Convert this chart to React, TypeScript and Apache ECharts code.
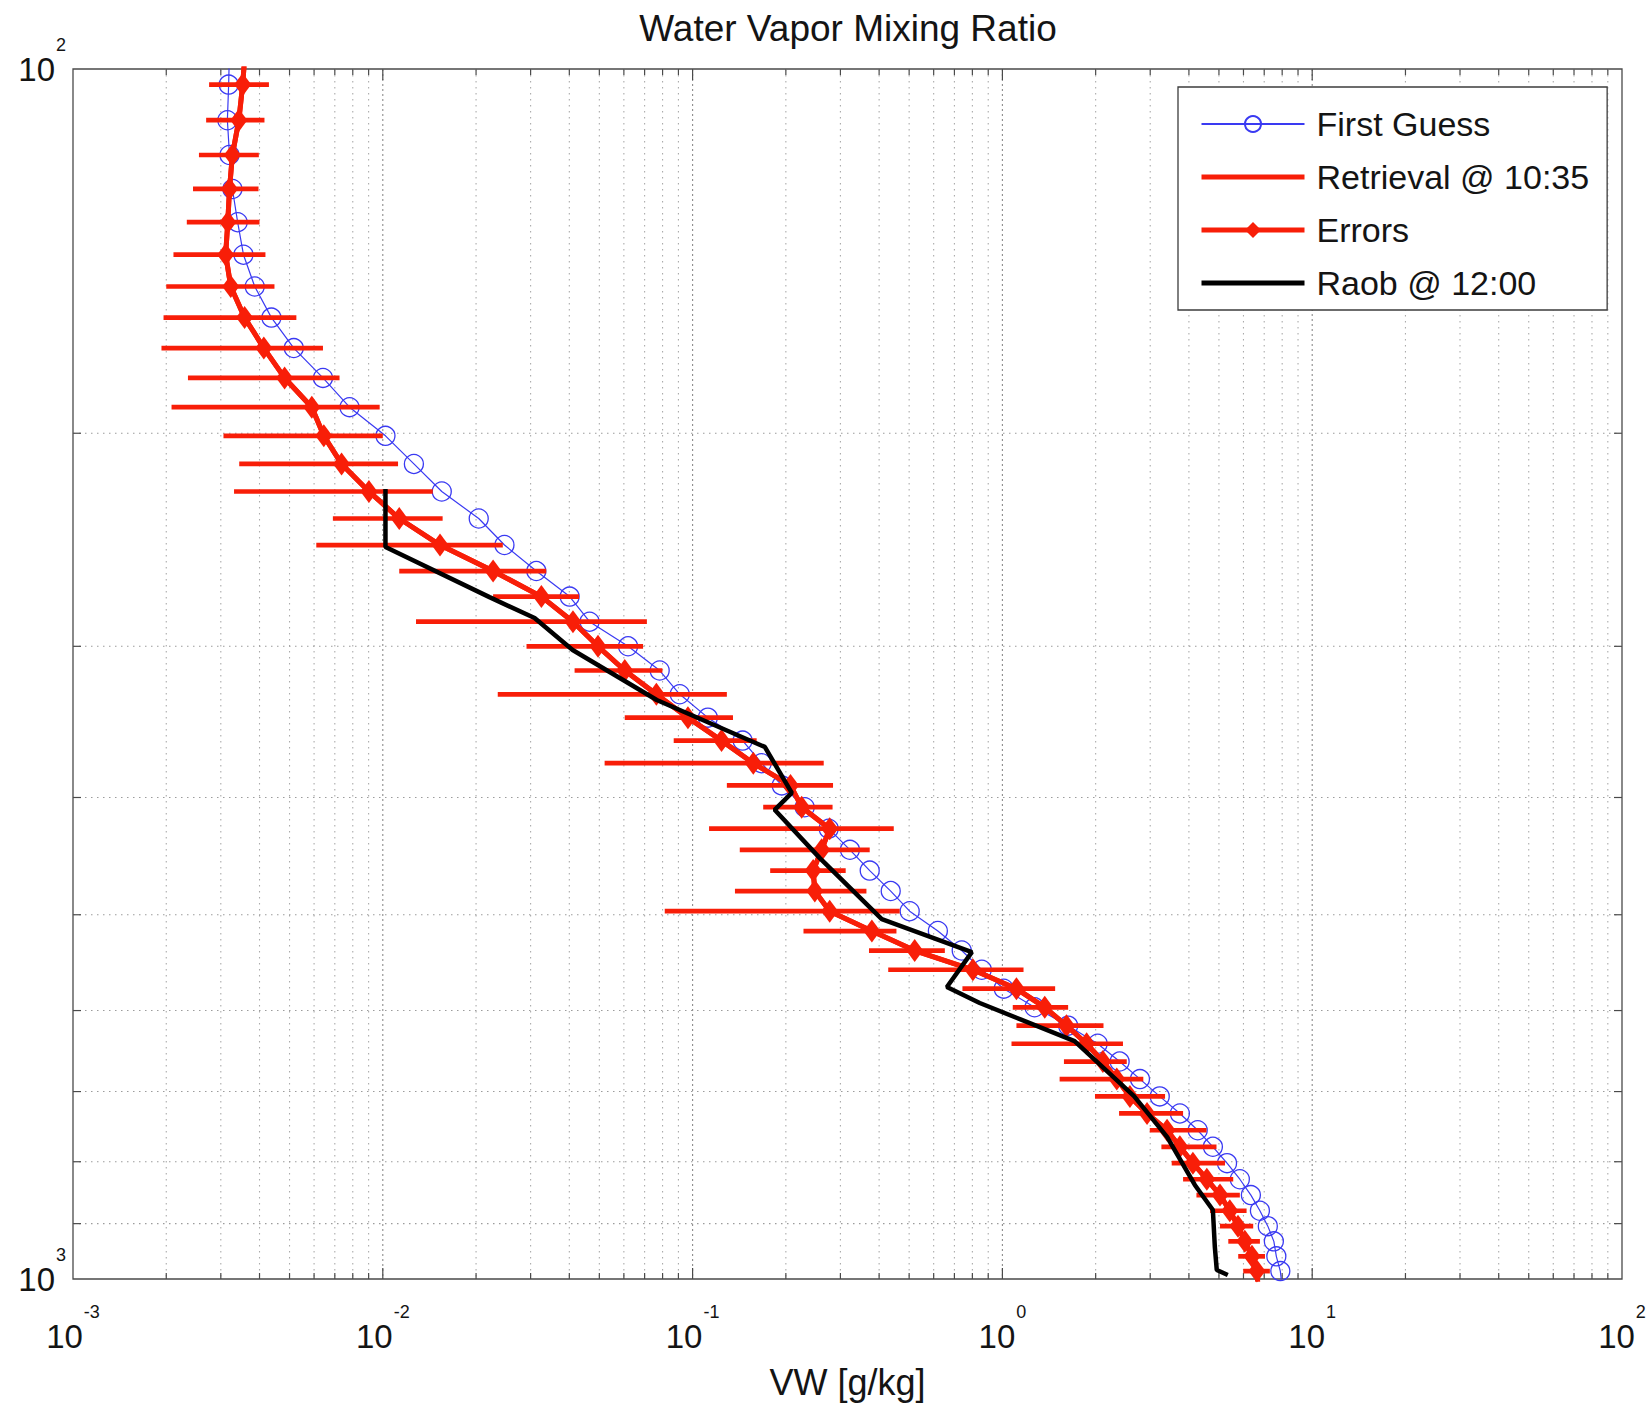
import React, { useEffect, useRef } from 'react';
import * as echarts from 'echarts';

// ---- Data ----
// Pressure levels [hPa]
const pressureLevels = [
  96.1138, 103.017, 110.237, 117.777, 125.646, 133.846, 142.385, 151.266, 160.496, 170.078,
  180.018, 190.32, 200.989, 212.028, 223.441, 235.234, 247.408, 259.969, 272.919, 286.262,
  300.0, 314.137, 328.675, 343.618, 358.966, 374.724, 390.893, 407.474, 424.47, 441.882,
  459.712, 477.961, 496.63, 515.724, 535.232, 555.167, 575.523, 596.29, 617.487, 639.104,
  661.142, 683.594, 706.466, 729.761, 753.471, 777.596, 802.139, 827.08, 852.43, 878.18,
  904.32, 930.86, 957.79, 985.11, 1012.84,
];

// First guess mixing ratio [g/kg]
const firstGuess = [
  0.0032, 0.00318, 0.00315, 0.0032, 0.00327, 0.0034, 0.00355, 0.00386, 0.00437, 0.00516,
  0.00641, 0.00781, 0.0102, 0.0126, 0.0155, 0.0204, 0.0247, 0.0313, 0.0401, 0.0465,
  0.0619, 0.0783, 0.0909, 0.112, 0.145, 0.167, 0.194, 0.23, 0.275, 0.322,
  0.373, 0.436, 0.502, 0.619, 0.739, 0.858, 1.01, 1.27, 1.63, 2.03,
  2.39, 2.78, 3.22, 3.74, 4.27, 4.78, 5.31, 5.84, 6.34, 6.78,
  7.19, 7.52, 7.66, 7.89, 7.99,
];

// Retrieval @ 10:35 [g/kg]
const retrieval = [
  0.0036, 0.00353, 0.00343, 0.00327, 0.0032, 0.00316, 0.00311, 0.00323, 0.00358, 0.00413,
  0.00482, 0.0059, 0.00645, 0.00736, 0.00902, 0.0113, 0.0153, 0.0227, 0.0325, 0.0411,
  0.0495, 0.0604, 0.0764, 0.0966, 0.124, 0.157, 0.207, 0.225, 0.277, 0.261,
  0.245, 0.248, 0.277, 0.379, 0.521, 0.803, 1.11, 1.37, 1.61, 1.87,
  2.11, 2.34, 2.58, 2.93, 3.4, 3.74, 4.12, 4.57, 5.04, 5.42,
  5.76, 6.06, 6.39, 6.63, 6.68,
];

// Error bar extents [g/kg]
const errorLow = [
  0.0028, 0.00275, 0.00269, 0.00255, 0.00244, 0.00233, 0.00211, 0.002, 0.00196, 0.00193,
  0.00235, 0.00208, 0.00306, 0.00344, 0.00331, 0.0069, 0.0061, 0.0113, 0.0227, 0.0128,
  0.0291, 0.0416, 0.0235, 0.0604, 0.0869, 0.052, 0.129, 0.169, 0.113, 0.142,
  0.178, 0.137, 0.0813, 0.228, 0.371, 0.428, 0.743, 1.08, 1.11, 1.07,
  1.58, 1.53, 1.99, 2.38, 2.99, 3.26, 3.52, 3.83, 4.23, 4.68,
  5.04, 5.36, 5.77, 5.99, 6.06,
];
const errorHigh = [
  0.0044, 0.00429, 0.00415, 0.00398, 0.00397, 0.004, 0.00418, 0.00447, 0.00526, 0.00641,
  0.00725, 0.00977, 0.01, 0.0112, 0.0145, 0.0156, 0.0244, 0.0337, 0.043, 0.0712,
  0.0692, 0.0799, 0.129, 0.135, 0.161, 0.265, 0.284, 0.283, 0.446, 0.373,
  0.312, 0.364, 0.466, 0.455, 0.652, 1.17, 1.48, 1.63, 2.12, 2.45,
  2.52, 2.85, 3.35, 3.83, 4.56, 4.91, 5.23, 5.56, 5.84, 6.14,
  6.45, 6.78, 7.04, 7.3, 7.41,
];

// Raob @ 12:00
const raobPressure = [
  222.4, 248.3, 273.2, 284.3, 302.1, 332.3, 363.3, 396.5, 409.5, 448.7, 504.2,
  536.8, 573.7, 591.4, 635.9, 706.2, 763.1, 836.2, 877.0, 941.0, 983.1, 992.4,
];
const raobMixing = [
  0.0102, 0.0102, 0.0221, 0.0309, 0.041, 0.0766, 0.171, 0.209, 0.184, 0.257, 0.408,
  0.797, 0.662, 0.845, 1.71, 2.66, 3.4, 4.18, 4.78, 4.85, 4.92, 5.34,
];

// Axis ticks
const xTickExponents = ['-3', '-2', '-1', '0', '1', '2'];
const yTickExponents = ['2', '3'];
const xDecades = [0.001, 0.01, 0.1, 1, 10];
const minorMultipliers = [2, 3, 4, 5, 6, 7, 8, 9];
const yMinorTicks = [200, 300, 400, 500, 600, 700, 800, 900];

const TITLE = 'Water Vapor Mixing Ratio';
const X_NAME = 'VW [g/kg]';
const NAMES = ['First Guess', 'Retrieval @ 10:35', 'Errors', 'Raob @ 12:00'];

const FONT = '"Liberation Sans", Arial, Helvetica, sans-serif';
const TXT = '#141414';
const BLUE = '#3a3af2';
const RED = '#f81e08';

export default function App() {
  const ref = useRef<HTMLDivElement>(null);

  useEffect(() => {
    if (!ref.current) return;
    const chart = echarts.init(ref.current, undefined, { renderer: 'svg' });

    const xMinor: number[][] = [];
    xDecades.forEach((d) => minorMultipliers.forEach((m) => xMinor.push([+(m * d).toPrecision(3), 500, 0])));
    xDecades.slice(1).forEach((d) => xMinor.push([d, 500, 1]));

    const expIndexX = (v: number) => Math.round(Math.log10(v)) + 3;
    const expIndexY = (v: number) => Math.round(Math.log10(v)) - 2;

    const rich = {
      b: { fontSize: 33, fontFamily: FONT, color: TXT, lineHeight: 34 },
      e: { fontSize: 18, fontFamily: FONT, color: TXT, lineHeight: 18, padding: [0, 0, 48, 1] },
    };

    const option: any = {
      animation: false,
      backgroundColor: '#ffffff',
      grid: {
        left: 73,
        top: 69,
        width: 1549,
        height: 1210,
        show: true,
        borderColor: '#4a4a4a',
        borderWidth: 1.3,
        backgroundColor: '#ffffff',
        containLabel: false,
        outerBoundsMode: 'none',
      },
      graphic: [
        {
          type: 'text',
          x: 848,
          y: 28,
          style: {
            text: TITLE,
            fontSize: 37,
            fontFamily: FONT,
            fill: TXT,
            align: 'center',
            verticalAlign: 'middle',
          },
        },
      ],
      legend: {
        data: [
          { name: NAMES[0] },
          { name: NAMES[1], itemStyle: { opacity: 0 }, lineStyle: { width: 5 } },
          { name: NAMES[2], lineStyle: { width: 5 } },
          { name: NAMES[3], itemStyle: { opacity: 0 }, lineStyle: { width: 5 } },
        ],
        orient: 'vertical',
        left: 1178,
        top: 87,
        itemWidth: 103,
        itemHeight: 20,
        itemGap: 19,
        padding: [20, 18, 10, 21],
        borderColor: '#3c3c3c',
        borderWidth: 1.3,
        backgroundColor: '#ffffff',
        selectedMode: false,
        textStyle: { fontSize: 34, lineHeight: 34, color: TXT, fontFamily: FONT, padding: [0, 0, 0, 7] },
        z: 20,
      },
      xAxis: {
        type: 'log',
        logBase: 10,
        min: 0.001,
        max: 100,
        axisLine: { show: false },
        axisTick: { show: false },
        splitLine: { show: false },
        axisLabel: {
          margin: 40,
          showMinLabel: true,
          showMaxLabel: true,
          formatter: (v: number) => `{b|10}{e|${xTickExponents[expIndexX(v)]}}`,
          rich,
        },
        name: X_NAME,
        nameLocation: 'middle',
        nameGap: 85,
        nameMoveOverlap: false,
        nameTextStyle: { fontSize: 36, fontFamily: FONT, color: TXT },
      },
      yAxis: {
        type: 'log',
        logBase: 10,
        min: 100,
        max: 1000,
        inverse: true,
        axisLine: { show: false },
        axisTick: { show: false },
        splitLine: { show: false },
        axisLabel: {
          margin: 7,
          showMinLabel: true,
          showMaxLabel: true,
          formatter: (v: number) => `{b|10}{e|${yTickExponents[expIndexY(v)]}}`,
          rich,
        },
      },
      series: [
        {
          name: 'xgrid',
          type: 'custom',
          silent: true,
          z: 1,
          clip: false,
          data: xMinor,
          encode: { x: 0, y: 1 },
          renderItem: (params: any, api: any) => {
            const cs = params.coordSys;
            const major = api.value(2) === 1;
            const x = api.coord([api.value(0), 500])[0];
            const top = cs.y;
            const bottom = cs.y + cs.height;
            const tl = major ? 11 : 6;
            return {
              type: 'group',
              children: [
                {
                  type: 'line',
                  shape: { x1: x, y1: top, x2: x, y2: bottom },
                  style: { stroke: major ? '#8c8c8c' : '#ababab', lineWidth: 1.1, lineDash: major ? [2, 3] : [1.5, 4.5] },
                },
                { type: 'line', shape: { x1: x, y1: bottom, x2: x, y2: bottom - tl }, style: { stroke: '#4a4a4a', lineWidth: 1.2 } },
                { type: 'line', shape: { x1: x, y1: top, x2: x, y2: top + tl }, style: { stroke: '#4a4a4a', lineWidth: 1.2 } },
              ],
            };
          },
        },
        {
          name: 'ygrid',
          type: 'custom',
          silent: true,
          z: 1,
          clip: false,
          data: yMinorTicks.map((p) => [0.01, p]),
          encode: { x: 0, y: 1 },
          renderItem: (params: any, api: any) => {
            const cs = params.coordSys;
            const y = api.coord([0.01, api.value(1)])[1];
            const left = cs.x;
            const right = cs.x + cs.width;
            return {
              type: 'group',
              children: [
                {
                  type: 'line',
                  shape: { x1: left, y1: y, x2: right, y2: y },
                  style: { stroke: '#9c9c9c', lineWidth: 1.1, lineDash: [1.5, 4.5] },
                },
                { type: 'line', shape: { x1: left, y1: y, x2: left + 8, y2: y }, style: { stroke: '#4a4a4a', lineWidth: 1.2 } },
                { type: 'line', shape: { x1: right, y1: y, x2: right - 8, y2: y }, style: { stroke: '#4a4a4a', lineWidth: 1.2 } },
              ],
            };
          },
        },
        {
          name: NAMES[0],
          type: 'line',
          z: 2,
          clip: true,
          data: pressureLevels.map((p, i) => [firstGuess[i], p]),
          symbol: 'circle',
          symbolSize: 19,
          showSymbol: true,
          itemStyle: { color: 'rgba(255,255,255,0)', borderColor: BLUE, borderWidth: 1.3 },
          lineStyle: { color: BLUE, width: 1.2 },
        },
        {
          name: NAMES[1],
          type: 'line',
          z: 3,
          clip: true,
          data: pressureLevels.map((p, i) => [retrieval[i], p]),
          symbol: 'none',
          itemStyle: { color: RED },
          lineStyle: { color: RED, width: 5 },
        },
        {
          name: 'Error bars',
          type: 'custom',
          z: 3,
          clip: true,
          data: pressureLevels.map((p, i) => [errorLow[i], errorHigh[i], p]),
          encode: { x: [0, 1], y: 2 },
          renderItem: (params: any, api: any) => {
            const a = api.coord([api.value(0), api.value(2)]);
            const b = api.coord([api.value(1), api.value(2)]);
            return {
              type: 'line',
              shape: { x1: a[0], y1: a[1], x2: b[0], y2: b[1] },
              style: { stroke: RED, lineWidth: 4.7 },
            };
          },
        },
        {
          name: NAMES[2],
          type: 'line',
          z: 4,
          clip: true,
          data: pressureLevels.map((p, i) => [retrieval[i], p]),
          symbol: 'diamond',
          symbolSize: [17, 23],
          showSymbol: true,
          itemStyle: { color: RED },
          lineStyle: { color: RED, width: 5 },
        },
        {
          name: NAMES[3],
          type: 'line',
          z: 5,
          clip: true,
          data: raobPressure.map((p, i) => [raobMixing[i], p]),
          symbol: 'none',
          itemStyle: { color: '#000' },
          lineStyle: { color: '#000', width: 4.5 },
        },
      ],
    };

    chart.setOption(option);
    return () => chart.dispose();
  }, []);

  return (
    <div
      ref={ref}
      style={{ position: 'absolute', left: 0, top: 0, width: 1646, height: 1409, background: '#fff' }}
    />
  );
}
